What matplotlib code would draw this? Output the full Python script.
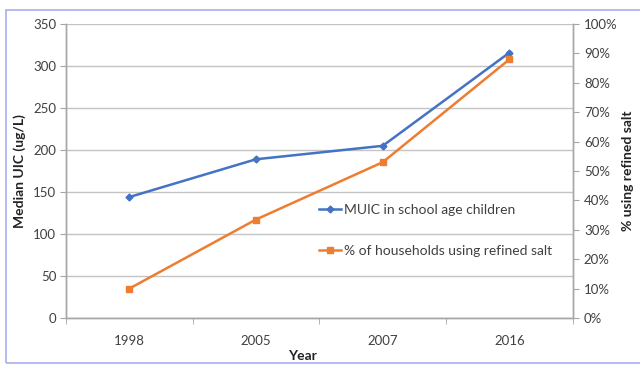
import numpy as np
import matplotlib
matplotlib.use("Agg")
import matplotlib.pyplot as plt
from matplotlib.patches import Rectangle
from matplotlib.ticker import FixedLocator, PercentFormatter

plt.rcParams['font.family'] = ['Lato', 'DejaVu Sans']

years = ['1998', '2005', '2007', '2016']
muic = [144, 189, 205, 316]
refined_salt = [10, 33.5, 53, 88]

BLUE = '#4472C4'
ORANGE = '#ED7D31'
GRID = '#c4c4c4'
SPINE = '#a6a6a6'
TXT = '#404040'
FS = 9.5
TITLE_FS = 10

fig = plt.figure(figsize=(6.4, 3.67), dpi=100)
ax = fig.add_axes([0.103, 0.1335, 0.792, 0.801])
ax2 = ax.twinx()

x = np.arange(len(years))

# left axis: median UIC
ax.plot(x, muic, color=BLUE, lw=1.8, marker='D', ms=3.5, label='MUIC in school age children', zorder=3)
ax.set_ylim(0, 350)
ax.set_yticks(np.arange(0, 351, 50))
ax.set_xlim(-0.5, len(years) - 0.5)
ax.set_xticks(x)
ax.set_xticklabels(years)
ax.xaxis.set_minor_locator(FixedLocator(np.arange(-0.5, len(years), 1.0)))
ax.tick_params(axis='x', which='major', length=0, pad=12, labelsize=FS, colors=TXT)
ax.tick_params(axis='x', which='minor', length=4, color=SPINE)
ax.tick_params(axis='y', length=4, color=SPINE, labelsize=FS, labelcolor=TXT, pad=3)
ax.grid(axis='y', color=GRID, lw=1)
ax.set_axisbelow(True)
ax.set_ylabel('Median UIC (ug/L)', fontsize=TITLE_FS, fontweight='bold', color='#222222')
ax.yaxis.set_label_coords(-0.091, 0.5)
ax.yaxis.label.set_va('center')

# right axis: share of households using refined salt
ax2.plot(x, refined_salt, color=ORANGE, lw=1.8, marker='s', ms=5, label='% of households using refined salt', zorder=3)
ax2.set_ylim(0, 100)
ax2.set_yticks(np.arange(0, 101, 10))
ax2.yaxis.set_major_formatter(PercentFormatter(decimals=0))
ax2.tick_params(axis='y', length=4, color=SPINE, labelsize=FS, labelcolor=TXT, pad=4)
ax2.set_ylabel('% using refined salt', fontsize=TITLE_FS, fontweight='bold', color='#222222', rotation=90)
ax2.yaxis.set_label_coords(1.108, 0.5)
ax2.yaxis.label.set_va('center')

for a in (ax, ax2):
    a.spines['top'].set_visible(False)
    for side in ('left', 'right', 'bottom'):
        a.spines[side].set_color(SPINE)
        a.spines[side].set_linewidth(1)

fig.text(0.472, 0.03, 'Year', ha='center', va='center', fontsize=TITLE_FS, fontweight='bold', color='#222222')

# legend entries sit inside the plot, without a frame
h1, l1 = ax.get_legend_handles_labels()
h2, l2 = ax2.get_legend_handles_labels()
ax2.legend(h1 + h2, l1 + l2, loc='upper left', bbox_to_anchor=(0.475, 0.43), frameon=False,
           fontsize=10, labelspacing=2.1, handlelength=1.6, handletextpad=0.2,
           labelcolor=TXT)

# outer chart frame, right edge runs off the image
fig.patches.append(Rectangle((0.009, 0.012), 1.0, 0.96, transform=fig.transFigure,
                             fill=False, edgecolor='#a9aef0', lw=1.2))

fig.savefig('out.png', dpi=100)
